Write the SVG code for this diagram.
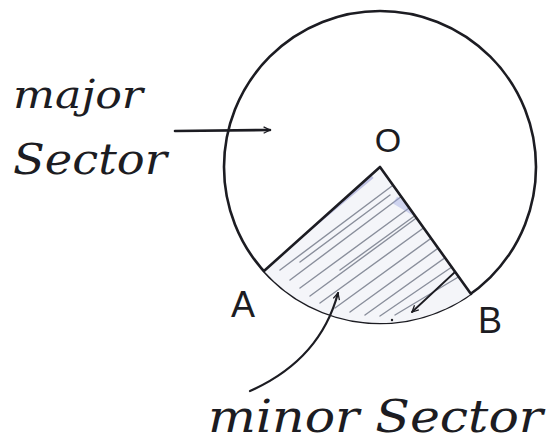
<svg xmlns="http://www.w3.org/2000/svg" width="549" height="441" viewBox="0 0 549 441">
<style>
.ink{fill:none;stroke:#1c1c22;stroke-width:2.6;stroke-linecap:round;stroke-linejoin:round}
.hatch{stroke:#8a8f9c;stroke-width:1.4;stroke-linecap:round}
.hand{font-family:"DejaVu Serif","Liberation Serif",serif;font-style:italic;fill:#1c1c22}
.lab{font-family:"Liberation Sans","DejaVu Sans",sans-serif;fill:#1c1c22}
</style>
<defs>
<clipPath id="sec"><path d="M380,167 L264,271 A156,156 0 0 0 471,294 Z"/></clipPath>
<marker id="ah" viewBox="0 0 10 10" refX="9" refY="5" markerWidth="8" markerHeight="8" orient="auto" markerUnits="userSpaceOnUse"><path d="M1,1 L9,5 L1,9" fill="none" stroke="#1c1c22" stroke-width="1.6"/></marker>
</defs>
<rect width="549" height="441" fill="#fff"/>
<g id="circle">
<circle cx="380" cy="167" r="156" class="ink"/>
</g>
<g id="minor-sector">
<path d="M380,167 L264,271 A156,156 0 0 0 471,294 Z" fill="#f4f5f9" stroke="none"/>
<g clip-path="url(#sec)">
<path class="hatch" d="M280,270 L400,180 M290,280 L410,190 M300,288 L420,200 M310,296 L430,208 M320,303 L440,216 M335,308 L448,226 M350,312 L455,236 M365,315 L460,247 M380,316 L465,258 M395,315 L470,270 M300,262 L390,195 M340,270 L420,212"/>
<path d="M300,236 L372,176" stroke="#5a62b8" stroke-width="5" opacity="0.35"/>
<path d="M395,200 L445,230" stroke="#9aa2e0" stroke-width="8" opacity="0.4"/>
</g>
<path class="ink" d="M380,167 L264,271 M380,167 L471,294"/>
<path class="ink" d="M455,272 L412,312" style="stroke-width:1.8" marker-end="url(#ah)"/>
<circle cx="392" cy="320" r="1.2" fill="#1c1c22"/>
</g>
<g id="labels">
<text class="lab" x="388" y="152" font-size="34" text-anchor="middle">O</text>
<text class="lab" x="243" y="317" font-size="36" text-anchor="middle">A</text>
<text class="lab" x="490" y="333" font-size="36" text-anchor="middle">B</text>
</g>
<g id="major-label">
<text class="hand" x="13" y="108" font-size="40" textLength="130" lengthAdjust="spacingAndGlyphs">major</text>
<text class="hand" x="13" y="174" font-size="42" textLength="154" lengthAdjust="spacingAndGlyphs">Sector</text>
</g>
<g id="minor-label">
<text class="hand" x="208" y="432" font-size="44" textLength="335" lengthAdjust="spacingAndGlyphs">minor Sector</text>
</g>
<g id="connectors">
<path class="ink" d="M175,131 L270,130" marker-end="url(#ah)"/>
<path class="ink" d="M250,391 Q320,360 338,293" style="stroke-width:2.2" marker-end="url(#ah)"/>
</g>
</svg>
